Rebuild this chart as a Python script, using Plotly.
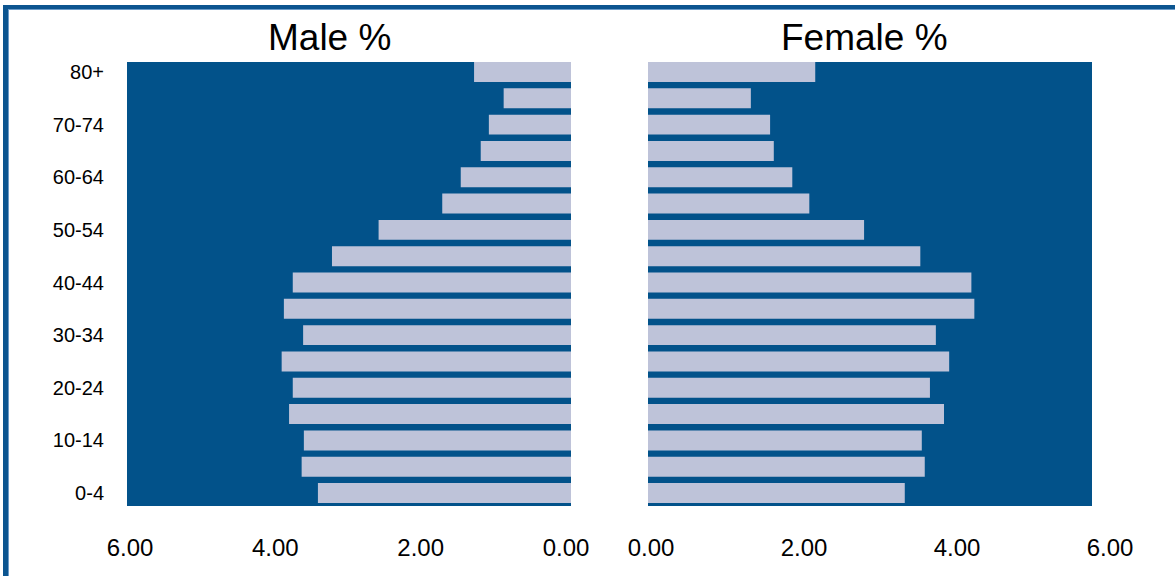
import plotly.graph_objects as go

# ---- data ----
age_groups = ["0-4", "5-9", "10-14", "15-19", "20-24", "25-29", "30-34", "35-39",
              "40-44", "45-49", "50-54", "55-59", "60-64", "65-69", "70-74", "75-79", "80+"]
male_pct = [3.42, 3.64, 3.61, 3.81, 3.76, 3.91, 3.62, 3.88,
            3.76, 3.23, 2.60, 1.74, 1.49, 1.22, 1.11, 0.91, 1.31]
female_pct = [3.47, 3.74, 3.70, 4.00, 3.81, 4.07, 3.89, 4.41,
              4.37, 3.68, 2.92, 2.18, 1.95, 1.70, 1.65, 1.39, 2.26]
x_ticks = [0, 2, 4, 6]
x_tick_labels = ["0.00", "2.00", "4.00", "6.00"]
y_tick_labels = age_groups[::2]
titles = ["Male %", "Female %"]

# ---- style ----
W, H = 1175, 576
DARK = "#02528A"
BAR = "#BEC3D9"
FONT = "Liberation Sans, Arial, sans-serif"


def px(x):
    return x / W


def py(y):
    return 1 - y / H


fig = go.Figure()
fig.add_trace(go.Bar(y=age_groups, x=male_pct, orientation="h", xaxis="x", yaxis="y",
                     marker=dict(color=BAR, line=dict(width=0)), showlegend=False,
                     hovertemplate="%{y}: %{x:.2f}<extra>Male</extra>"))
fig.add_trace(go.Bar(y=age_groups, x=female_pct, orientation="h", xaxis="x2", yaxis="y2",
                     marker=dict(color=BAR, line=dict(width=0)), showlegend=False,
                     hovertemplate="%{y}: %{x:.2f}<extra>Female</extra>"))
# carriers for the tick-label axes
fig.add_trace(go.Scatter(x=[], y=[], xaxis="x3", yaxis="y2", showlegend=False, hoverinfo="skip"))
fig.add_trace(go.Scatter(x=[], y=[], xaxis="x4", yaxis="y", showlegend=False, hoverinfo="skip"))

y_dom = [py(506), py(62)]
y_rng = [-0.494, 16.38]
tickfont_x = dict(family=FONT, size=24, color="#000000")
tickfont_y = dict(family=FONT, size=20, color="#000000")
hidden = dict(showgrid=False, zeroline=False, showline=False, ticks="",
              showticklabels=False, automargin=False)
label_axis = dict(showgrid=False, zeroline=False, showline=False, ticks="",
                  automargin=False)

fig.update_layout(
    width=W, height=H,
    margin=dict(l=0, r=0, t=0, b=0, pad=0),
    paper_bgcolor="white",
    plot_bgcolor="rgba(0,0,0,0)",
    bargap=0.24,
    font=dict(family=FONT, color="#000000"),
    xaxis=dict(domain=[px(127), px(571)], range=[6, 0], anchor="y", **hidden),
    xaxis2=dict(domain=[px(648), px(1092)], range=[0, 6], anchor="y2", **hidden),
    xaxis4=dict(domain=[px(130), px(566)], range=[6, 0], anchor="y",
                tickvals=x_ticks, ticktext=x_tick_labels, tickfont=tickfont_x,
                ticklabelstandoff=25, **label_axis),
    xaxis3=dict(domain=[px(651), px(1110)], range=[0, 6], anchor="y2",
                tickvals=x_ticks, ticktext=x_tick_labels, tickfont=tickfont_x,
                ticklabelstandoff=25, **label_axis),
    yaxis=dict(domain=y_dom, type="category", categoryarray=age_groups,
               categoryorder="array", range=y_rng, anchor="x",
               tickvals=y_tick_labels, ticktext=y_tick_labels, tickfont=tickfont_y,
               ticklabelstandoff=22, **label_axis),
    yaxis2=dict(domain=y_dom, type="category", categoryarray=age_groups,
                categoryorder="array", range=y_rng, anchor="x2", matches="y", **hidden),
)

# dark plot-area backgrounds
for xr, yr in (("x domain", "y domain"), ("x2 domain", "y2 domain")):
    fig.add_shape(type="rect", xref=xr, yref=yr, x0=0, x1=1, y0=0, y1=1,
                  fillcolor=DARK, line=dict(width=0), layer="below")

# frame (top and left edges)
FRAME = "#0C5590"
EDGE = "#6C9BC8"
fig.add_shape(type="rect", xref="paper", yref="paper", x0=px(3), x1=1, y0=py(9), y1=py(5),
              fillcolor=FRAME, line=dict(width=0), layer="above")
fig.add_shape(type="rect", xref="paper", yref="paper", x0=px(8), x1=1, y0=py(10), y1=py(9),
              fillcolor=EDGE, line=dict(width=0), layer="above")
fig.add_shape(type="rect", xref="paper", yref="paper", x0=px(3), x1=px(8), y0=0, y1=py(5),
              fillcolor=FRAME, line=dict(width=0), layer="above")
fig.add_shape(type="rect", xref="paper", yref="paper", x0=px(8), x1=px(9), y0=0, y1=py(9),
              fillcolor=EDGE, line=dict(width=0), layer="above")

# panel titles
for txt, cx in zip(titles, (329, 864)):
    fig.add_annotation(text=txt, xref="paper", yref="paper", x=px(cx), y=py(37),
                       xanchor="center", yanchor="middle", showarrow=False,
                       font=dict(family=FONT, size=37, color="#000000"))

fig.write_html("out.html", config={"displayModeBar": False},
               post_script="document.body.style.margin='0px';document.body.style.overflow='hidden';")
